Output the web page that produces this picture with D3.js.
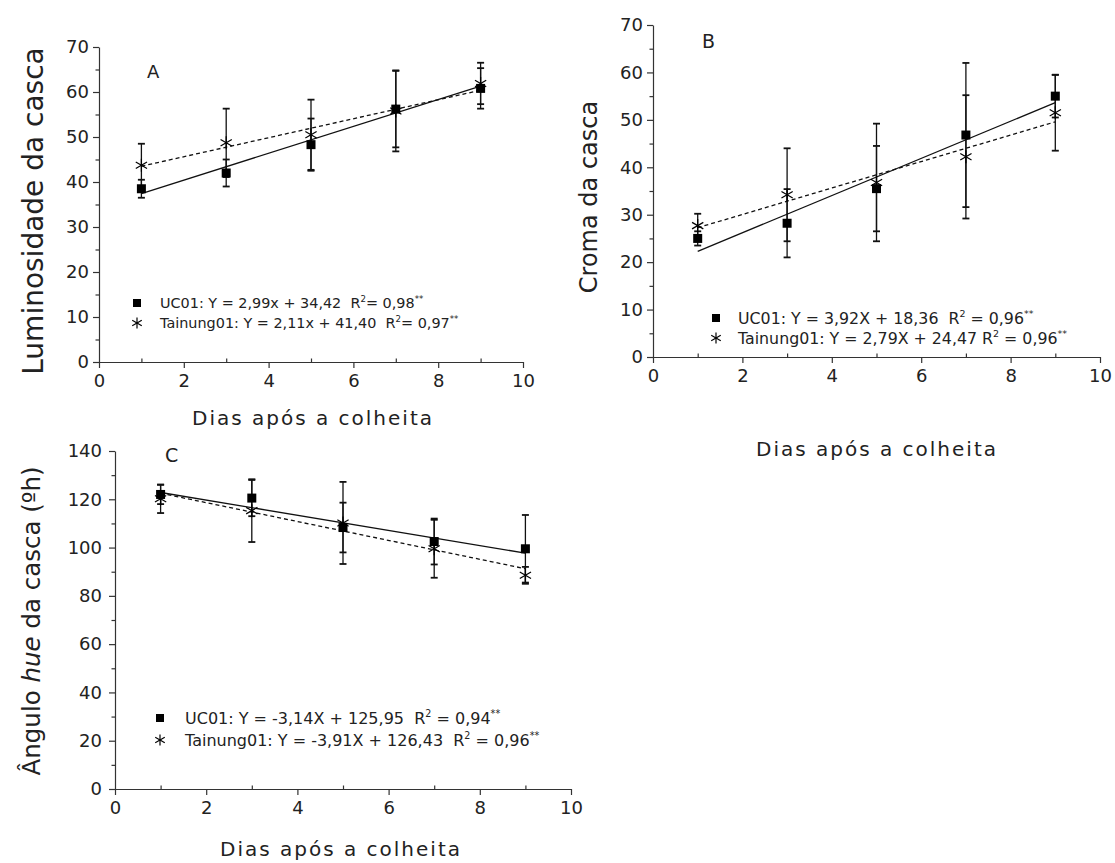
<!DOCTYPE html>
<html><head><meta charset="utf-8">
<script src="https://cdn.jsdelivr.net/npm/d3@7"></script>
<style>
body{margin:0;background:#fff;}
text{font-family:"DejaVu Sans",Verdana,sans-serif;fill:#222;white-space:pre;}
</style></head>
<body>
<svg id="chart" width="1115" height="863"></svg>
<script>
// ---- data ----
const days = [1, 3, 5, 7, 9];
const xTicks = [0, 2, 4, 6, 8, 10];

const ucA = [38.5, 42.0, 48.3, 56.2, 60.8];
const ucAErr = [2.0, 3.0, 5.8, 8.5, 4.5];
const taA = [43.7, 48.7, 50.5, 55.8, 61.9];
const taAErr = [4.8, 7.6, 7.8, 9.0, 4.6];

const ucB = [25.0, 28.2, 35.5, 46.8, 55.0];
const ucBErr = [1.5, 7.2, 9.0, 15.2, 4.5];
const taB = [27.7, 34.2, 36.8, 42.2, 51.5];
const taBErr = [2.5, 9.8, 12.4, 13.0, 8.0];

const ucC = [122.0, 120.5, 108.3, 102.5, 99.5];
const ucCErr = [4.0, 7.5, 10.3, 9.5, 14.0];
const taC = [120.2, 115.3, 110.2, 99.5, 88.5];
const taCErr = [5.9, 13.0, 17.0, 12.0, 3.5];

// regression coefficients from the legends [slope, intercept]
const fitA = [[2.99, 34.42], [2.11, 41.40]];
const fitB = [[3.92, 18.36], [2.79, 24.47]];
const fitC = [[-3.14, 125.95], [-3.91, 126.43]];

const legA = [["UC01: Y = 2,99x + 34,42  R", "= 0,98"], ["Tainung01: Y = 2,11x + 41,40  R", "= 0,97"]];
const legB = [["UC01: Y = 3,92X + 18,36  R", " = 0,96"], ["Tainung01: Y = 2,79X + 24,47 R", " = 0,96"]];
const legC = [["UC01: Y = -3,14X + 125,95  R", " = 0,94"], ["Tainung01: Y = -3,91X + 126,43  R", " = 0,96"]];

const yTicksA = [0, 10, 20, 30, 40, 50, 60, 70];
const yTicksC = [0, 20, 40, 60, 80, 100, 120, 140];

const svg = d3.select("#chart");

function star(g, cx, cy, r) {
  [90, 30, -30].forEach(a => {
    const rad = a * Math.PI / 180;
    g.append("line").attr("x1", cx - r * Math.cos(rad)).attr("y1", cy - r * Math.sin(rad))
      .attr("x2", cx + r * Math.cos(rad)).attr("y2", cy + r * Math.sin(rad))
      .attr("stroke", "#000").attr("stroke-width", 1.2);
  });
}

function panel(o) {
  const g = svg.append("g");
  const x = d3.scaleLinear().domain([0, 10]).range([o.left, o.right]);
  const y = d3.scaleLinear().domain([0, o.ymax]).range([o.bottom, o.top]);

  // minor ticks
  g.append("g").attr("transform", `translate(${o.left},0)`)
    .call(d3.axisLeft(y).tickValues(d3.range(o.ystep / 2, o.ymax, o.ystep)).tickSize(3.5).tickFormat(""))
    .call(a => a.select(".domain").remove());
  g.append("g").attr("transform", `translate(0,${o.bottom})`)
    .call(d3.axisTop(x).tickValues(days).tickSize(3.5).tickFormat(""))
    .call(a => a.select(".domain").remove());
  // major axes
  g.append("g").attr("transform", `translate(${o.left},0)`)
    .call(d3.axisLeft(y).tickValues(o.yTicks).tickSize(6).tickSizeOuter(0).tickPadding(o.yPad));
  g.append("g").attr("transform", `translate(0,${o.bottom})`)
    .call(d3.axisBottom(x).tickValues(xTicks).tickSize(6).tickSizeOuter(0).tickPadding(6));
  g.selectAll(".domain, .tick line").attr("stroke", "#333").attr("stroke-width", 1.2);
  g.selectAll(".tick text").attr("font-size", 18).attr("fill", "#333")
    .style("font-family", '"DejaVu Sans",Verdana,sans-serif');

  // fit lines
  const lineGen = d3.line().x(d => x(d[0])).y(d => y(d[1]));
  o.fit.forEach((c, i) => {
    const pts = [days[0], days[days.length - 1]].map(d => [d, c[0] * d + c[1]]);
    g.append("path").attr("d", lineGen(pts)).attr("fill", "none")
      .attr("stroke", "#111").attr("stroke-width", 1.3)
      .attr("stroke-dasharray", i === 1 ? "4,3" : null);
  });

  // error bars
  [[o.uc, o.ucErr], [o.ta, o.taErr]].forEach(([v, e]) => {
    days.forEach((d, i) => {
      const cx = x(d), y1 = y(v[i] + e[i]), y0 = y(v[i] - e[i]);
      g.append("line").attr("x1", cx).attr("x2", cx).attr("y1", y1).attr("y2", y0)
        .attr("stroke", "#111").attr("stroke-width", 1.3);
      [y1, y0].forEach(yy => g.append("line").attr("x1", cx - 3.5).attr("x2", cx + 3.5)
        .attr("y1", yy).attr("y2", yy).attr("stroke", "#111").attr("stroke-width", 1.8));
    });
  });

  // markers
  days.forEach((d, i) => {
    g.append("rect").attr("x", x(d) - 4.5).attr("y", y(o.uc[i]) - 4.5)
      .attr("width", 9).attr("height", 9).attr("fill", "#000");
    star(g, x(d), y(o.ta[i]), 6.5);
  });

  // panel letter
  g.append("text").attr("x", o.letter[0]).attr("y", o.letter[1]).attr("font-size", o.letterFont).text(o.letterText);

  // legend
  o.leg.forEach((L, i) => {
    const ly = o.legPos[1] + i * o.legGap;
    if (i === 0) g.append("rect").attr("x", o.legPos[0] - 4).attr("y", ly - 4)
      .attr("width", 8).attr("height", 8).attr("fill", "#000");
    else star(g, o.legPos[0], ly, 5.5);
    const f = o.legFont, up = 0.42 * f;
    const t = g.append("text").attr("x", o.legText).attr("y", ly + f * 0.38).attr("font-size", f);
    t.append("tspan").text(L[0]);
    t.append("tspan").attr("dy", -up).attr("font-size", 0.6 * f).text("2");
    t.append("tspan").attr("dy", up).attr("font-size", f).text(L[1]);
    t.append("tspan").attr("dy", -up).attr("font-size", 0.6 * f).text("**");
  });

  // titles
  g.append("text").attr("x", o.xt[0]).attr("y", o.xt[1]).attr("text-anchor", "middle")
    .attr("font-size", 20).attr("letter-spacing", 2).text("Dias após a colheita");
  const yt = g.append("text").attr("transform", `translate(${o.yt[0]},${o.yt[1]}) rotate(-90)`)
    .attr("text-anchor", "middle").attr("font-size", o.ytFont);
  o.ytParts.forEach(p => yt.append("tspan").attr("font-style", p[1] ? "italic" : null).text(p[0]));
}

panel({left: 99, right: 523, top: 47, bottom: 362, ymax: 70, ystep: 10, yTicks: yTicksA, yPad: 4,
  uc: ucA, ucErr: ucAErr, ta: taA, taErr: taAErr, fit: fitA,
  letter: [147, 78], letterFont: 18, letterText: "A",
  leg: legA, legPos: [137, 303], legGap: 20, legText: 160, legFont: 14.4,
  xt: [313, 425], yt: [43, 211], ytFont: 28, ytParts: [["Luminosidade da casca", false]]});

panel({left: 653, right: 1100, top: 25, bottom: 357, ymax: 70, ystep: 10, yTicks: yTicksA, yPad: 4,
  uc: ucB, ucErr: ucBErr, ta: taB, taErr: taBErr, fit: fitB,
  letter: [702, 48], letterFont: 19, letterText: "B",
  leg: legB, legPos: [716, 318], legGap: 20, legText: 738, legFont: 15.8,
  xt: [877, 456], yt: [597, 197], ytFont: 24, ytParts: [["Croma da casca", false]]});

panel({left: 115, right: 571, top: 451, bottom: 789, ymax: 140, ystep: 20, yTicks: yTicksC, yPad: 7,
  uc: ucC, ucErr: ucCErr, ta: taC, taErr: taCErr, fit: fitC,
  letter: [165, 462], letterFont: 19, letterText: "C",
  leg: legC, legPos: [160, 718], legGap: 22, legText: 185, legFont: 16,
  xt: [341, 856], yt: [40, 621], ytFont: 24.5,
  ytParts: [["Ângulo ", false], ["hue", true], [" da casca (ºh)", false]]});
</script>
</body></html>
